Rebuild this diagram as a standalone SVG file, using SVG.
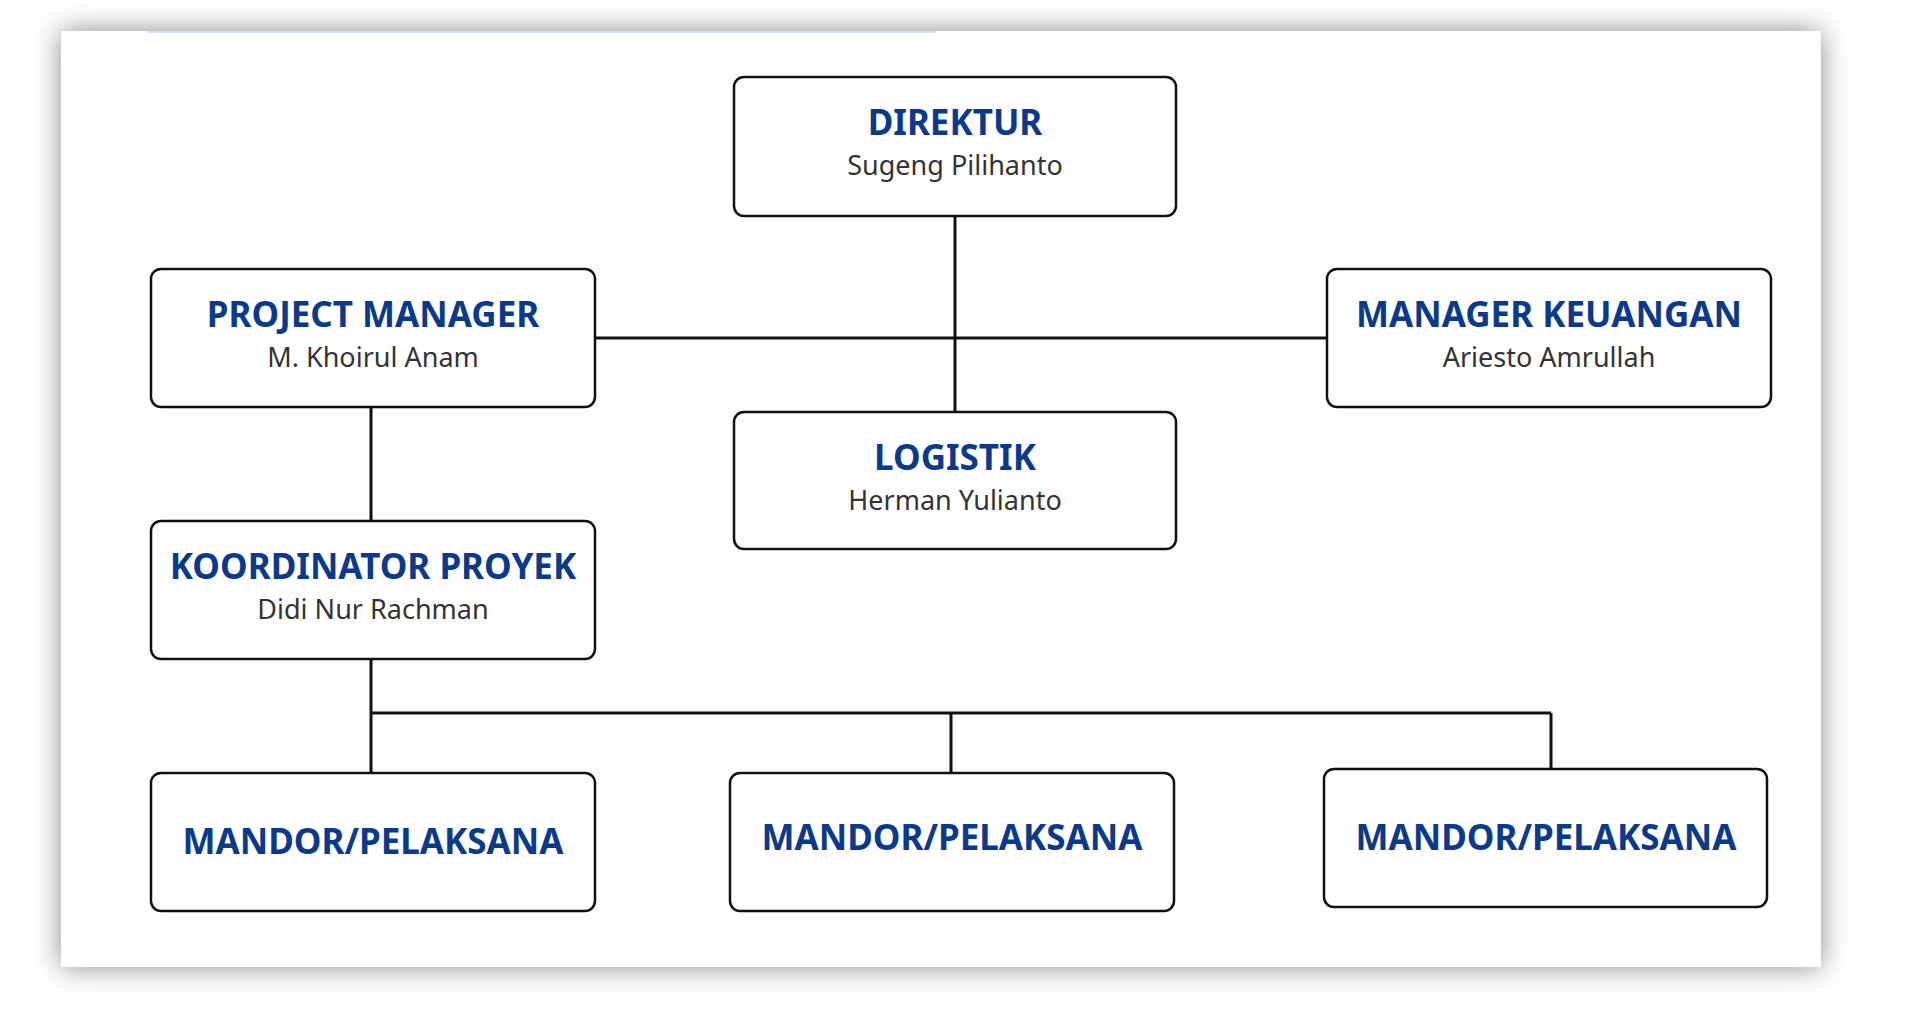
<svg xmlns="http://www.w3.org/2000/svg" width="1920" height="1020" viewBox="0 0 1920 1020">
<defs>
<filter id="sh" x="-10%" y="-10%" width="120%" height="120%"><feGaussianBlur stdDeviation="14"/></filter>
<style>
.box{fill:#fff;stroke:#111;stroke-width:2.5}
.t{font-family:"Noto Sans",sans-serif;font-weight:bold;font-size:35px;fill:#0b3a8a;text-anchor:middle}
.s{font-family:"Noto Sans",sans-serif;font-size:27px;fill:#333;text-anchor:middle}
.ln{stroke:#111;stroke-width:3;fill:none}
</style>
</defs>
<rect width="1920" height="1020" fill="#fff"/>
<rect x="61" y="31" width="1760" height="936" fill="#888" filter="url(#sh)"/>
<rect x="61" y="31" width="1760" height="936" fill="#fff"/>
<line x1="147" y1="32" x2="936" y2="32" stroke="#d3e2f4" stroke-width="2"/>
<g id="connectors">
<path class="ln" d="M955 216V412M595 338H1327M371 407V521M371 659V773M371 713H1551M951 713V773M1551 713V769"/>
</g>
<g id="direktur"><rect class="box" x="734" y="77" width="442" height="139" rx="10"/><text class="t" x="955" y="135">DIREKTUR</text><text class="s" x="955" y="175">Sugeng Pilihanto</text></g>
<g id="pm"><rect class="box" x="151" y="269" width="444" height="138" rx="10"/><text class="t" x="373" y="327">PROJECT MANAGER</text><text class="s" x="373" y="367">M. Khoirul Anam</text></g>
<g id="mk"><rect class="box" x="1327" y="269" width="444" height="138" rx="10"/><text class="t" x="1549" y="327">MANAGER KEUANGAN</text><text class="s" x="1549" y="367">Ariesto Amrullah</text></g>
<g id="logistik"><rect class="box" x="734" y="412" width="442" height="137" rx="10"/><text class="t" x="955" y="470">LOGISTIK</text><text class="s" x="955" y="510">Herman Yulianto</text></g>
<g id="kp"><rect class="box" x="151" y="521" width="444" height="138" rx="10"/><text class="t" x="373" y="579">KOORDINATOR PROYEK</text><text class="s" x="373" y="619">Didi Nur Rachman</text></g>
<g id="m1"><rect class="box" x="151" y="773" width="444" height="138" rx="10"/><text class="t" x="373" y="854">MANDOR/PELAKSANA</text></g>
<g id="m2"><rect class="box" x="730" y="773" width="444" height="138" rx="10"/><text class="t" x="952" y="850">MANDOR/PELAKSANA</text></g>
<g id="m3"><rect class="box" x="1324" y="769" width="443" height="138" rx="10"/><text class="t" x="1546" y="850">MANDOR/PELAKSANA</text></g>
</svg>
